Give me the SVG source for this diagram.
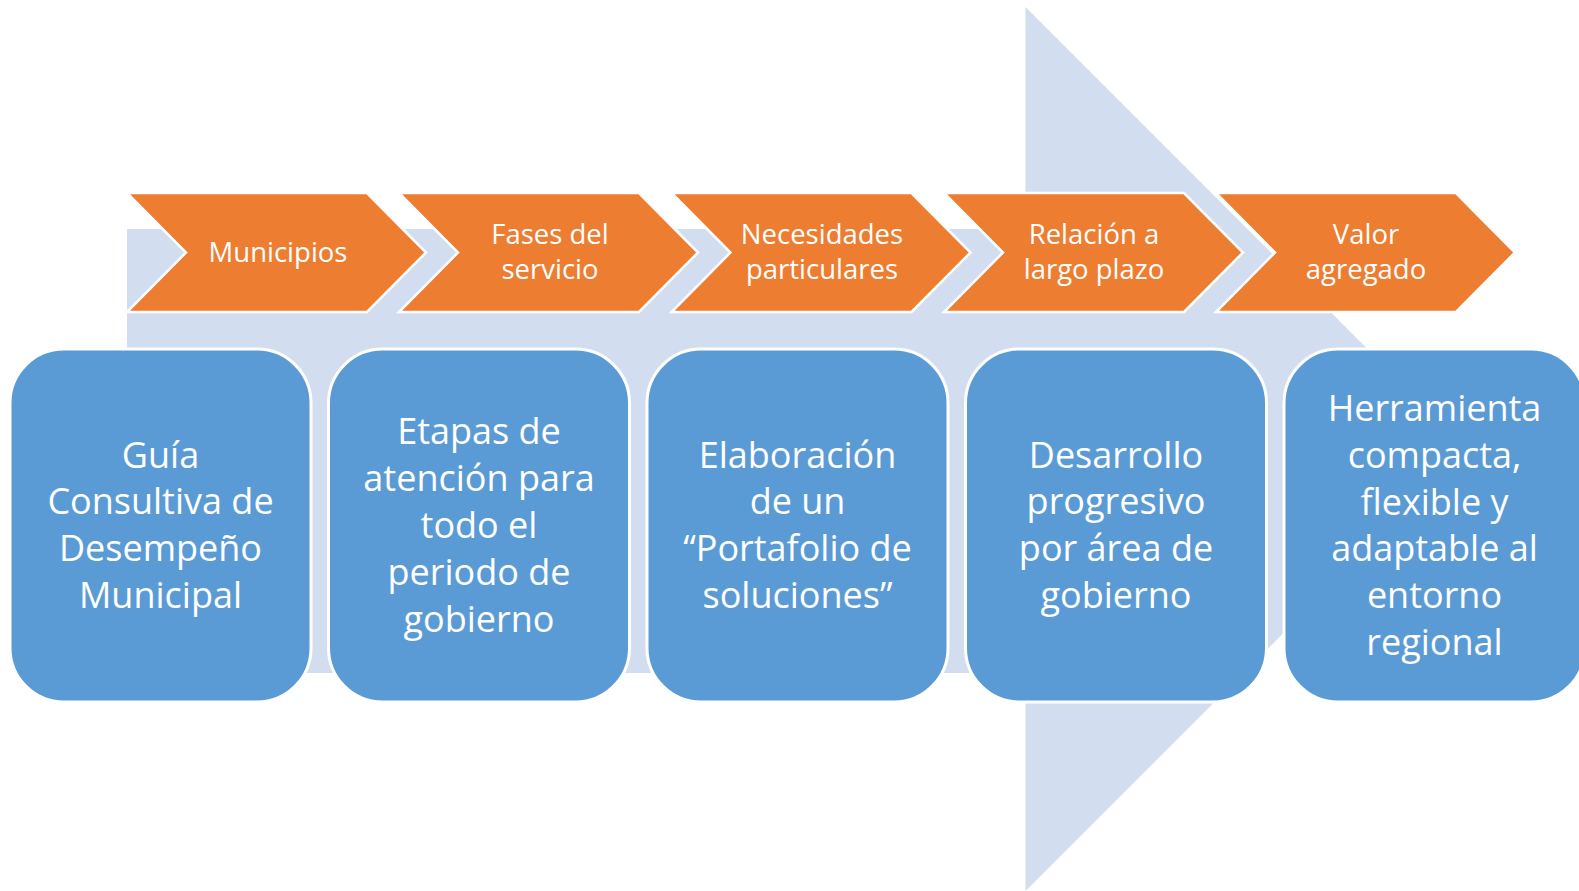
<svg xmlns="http://www.w3.org/2000/svg" width="1579" height="891" viewBox="0 0 1579 891">
<defs>
<style>
.bg{fill:#D2DEEF}
.chev{fill:#ED7D31;stroke:#FFFFFF;stroke-width:2.5;stroke-linejoin:miter}
.box{fill:#5B9BD5;stroke:#FFFFFF;stroke-width:3}
.ct{font-family:"Open Sans","Liberation Sans",sans-serif;font-size:27.5px;fill:#FFFFFF;text-anchor:middle}
.bt{font-family:"Open Sans","Liberation Sans",sans-serif;font-size:36px;fill:#FFFFFF;text-anchor:middle}
</style>
</defs>
<rect width="1579" height="891" fill="#FFFFFF"/>
<g id="arrow-background">
<polygon class="bg" points="127,229 1025.5,229 1025.5,7 1467.5,449 1025.5,891 1025.5,673 127,673"/>
</g>
<g id="connectors"></g>
<g id="chevron1">
<polygon class="chev" points="127,193 367,193 426,252.5 367,312 127,312 186,252.5"/>
<text class="ct" x="278" y="262">Municipios</text>
</g>
<g id="chevron2">
<polygon class="chev" points="399,193 639,193 698,252.5 639,312 399,312 458,252.5"/>
<text class="ct" x="550" y="244">Fases del</text>
<text class="ct" x="550" y="279">servicio</text>
</g>
<g id="chevron3">
<polygon class="chev" points="671.5,193 911.5,193 970.5,252.5 911.5,312 671.5,312 730.5,252.5"/>
<text class="ct" x="822" y="244">Necesidades</text>
<text class="ct" x="822" y="279">particulares</text>
</g>
<g id="chevron4">
<polygon class="chev" points="944,193 1184,193 1243,252.5 1184,312 944,312 1003,252.5"/>
<text class="ct" x="1094" y="244">Relación a</text>
<text class="ct" x="1094" y="279">largo plazo</text>
</g>
<g id="chevron5">
<polygon class="chev" points="1216,193 1456,193 1515,252.5 1456,312 1216,312 1275,252.5"/>
<text class="ct" x="1366" y="244">Valor</text>
<text class="ct" x="1366" y="279">agregado</text>
</g>
<g id="box1">
<rect class="box" x="10" y="349" width="301" height="353" rx="54" ry="54"/>
<text class="bt" x="160.5" y="467.5">Guía</text>
<text class="bt" x="160.5" y="514.4">Consultiva de</text>
<text class="bt" x="160.5" y="561.3">Desempeño</text>
<text class="bt" x="160.5" y="608.2">Municipal</text>
</g>
<g id="box2">
<rect class="box" x="328.5" y="349" width="301" height="353" rx="54" ry="54"/>
<text class="bt" x="479" y="444.2">Etapas de</text>
<text class="bt" x="479" y="491.1">atención para</text>
<text class="bt" x="479" y="538">todo el</text>
<text class="bt" x="479" y="584.9">periodo de</text>
<text class="bt" x="479" y="631.8">gobierno</text>
</g>
<g id="box3">
<rect class="box" x="647" y="349" width="301" height="353" rx="54" ry="54"/>
<text class="bt" x="797.5" y="467.5">Elaboración</text>
<text class="bt" x="797.5" y="514.4">de un</text>
<text class="bt" x="797.5" y="561.3">“Portafolio de</text>
<text class="bt" x="797.5" y="608.2">soluciones”</text>
</g>
<g id="box4">
<rect class="box" x="965.5" y="349" width="301" height="353" rx="54" ry="54"/>
<text class="bt" x="1116" y="467.5">Desarrollo</text>
<text class="bt" x="1116" y="514.4">progresivo</text>
<text class="bt" x="1116" y="561.3">por área de</text>
<text class="bt" x="1116" y="608.2">gobierno</text>
</g>
<g id="box5">
<rect class="box" x="1284" y="349" width="301" height="353" rx="54" ry="54"/>
<text class="bt" x="1434.5" y="420.7">Herramienta</text>
<text class="bt" x="1434.5" y="467.6">compacta,</text>
<text class="bt" x="1434.5" y="514.5">flexible y</text>
<text class="bt" x="1434.5" y="561.4">adaptable al</text>
<text class="bt" x="1434.5" y="608.3">entorno</text>
<text class="bt" x="1434.5" y="655.2">regional</text>
</g>
</svg>
